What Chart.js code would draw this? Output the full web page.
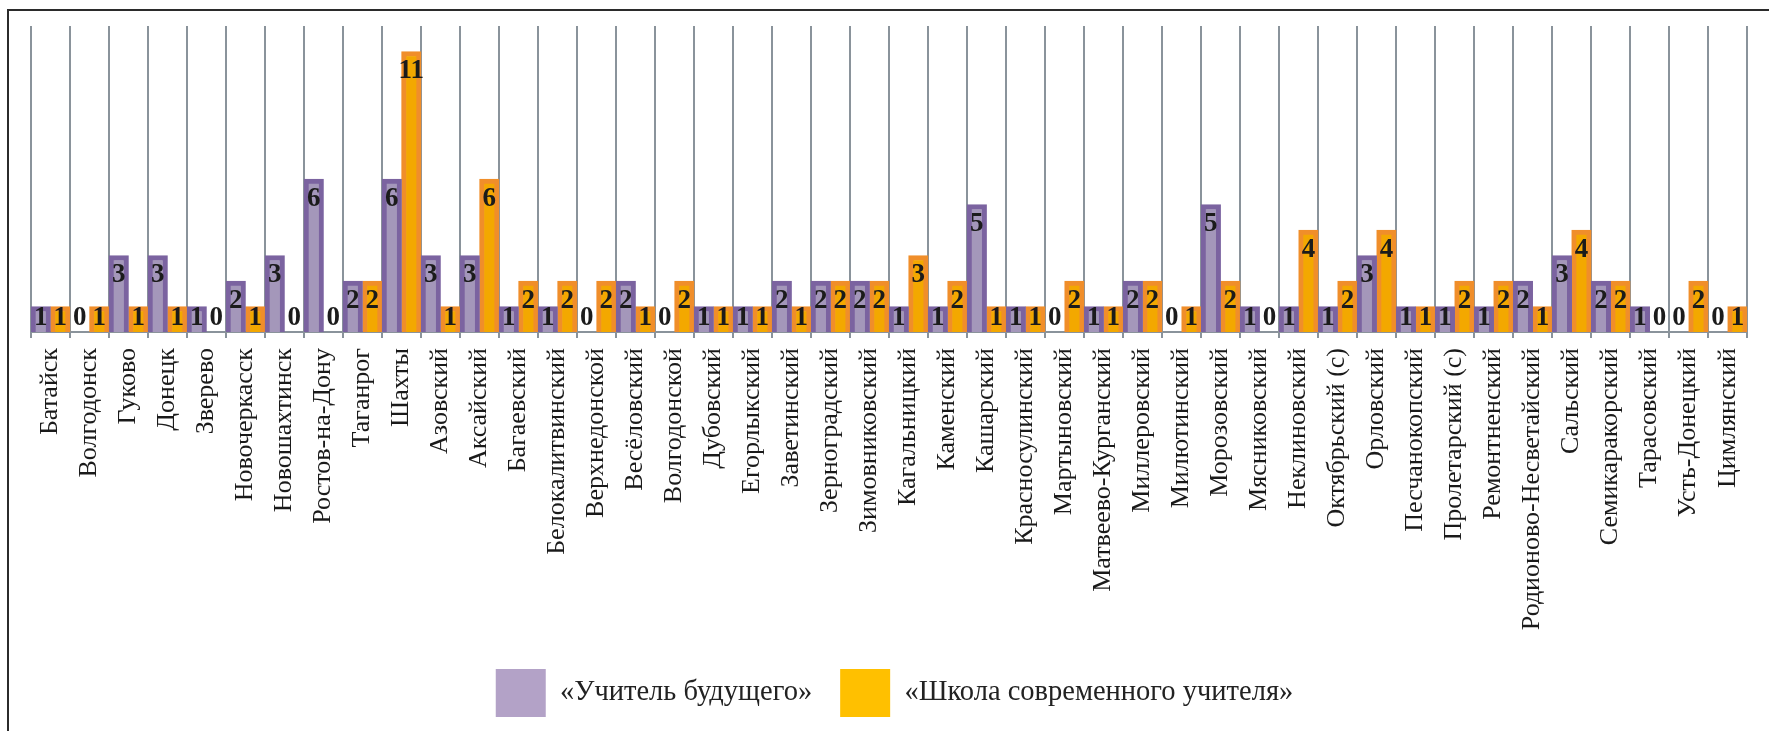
<!DOCTYPE html>
<html lang="ru">
<head>
<meta charset="utf-8">
<title>Учитель будущего / Школа современного учителя</title>
<script src="https://cdn.jsdelivr.net/npm/chart.js@4/dist/chart.umd.min.js"></script>
<style>
  html, body { margin: 0; padding: 0; background: #fff; overflow: hidden; }
  #wrap { position: relative; width: 1769px; height: 731px; }
  #frame { position: absolute; left: 7px; top: 9px; width: 3000px; height: 3000px;
           border-left: 2px solid #2b2b2b; border-top: 2px solid #2b2b2b; }
  #chart { position: absolute; left: 0; top: 0; }
</style>
</head>
<body>
<div id="wrap">
  <div id="frame"></div>
  <canvas id="chart" width="1769" height="731"></canvas>
</div>
<script>
const categories = [
  'Батайск', 'Волгодонск', 'Гуково', 'Донецк', 'Зверево', 'Новочеркасск', 'Новошахтинск',
  'Ростов-на-Дону', 'Таганрог', 'Шахты', 'Азовский', 'Аксайский', 'Багаевский',
  'Белокалитвинский', 'Верхнедонской', 'Весёловский', 'Волгодонской', 'Дубовский',
  'Егорлыкский', 'Заветинский', 'Зерноградский', 'Зимовниковский', 'Кагальницкий',
  'Каменский', 'Кашарский', 'Красносулинский', 'Мартыновский', 'Матвеево-Курганский',
  'Миллеровский', 'Милютинский', 'Морозовский', 'Мясниковский', 'Неклиновский',
  'Октябрьский (с)', 'Орловский', 'Песчанокопский', 'Пролетарский (с)', 'Ремонтненский',
  'Родионово-Несветайский', 'Сальский', 'Семикаракорский', 'Тарасовский', 'Усть-Донецкий',
  'Цимлянский'
];

const teacherFuture = [
  1, 0, 3, 3, 1, 2, 3, 6, 2, 6, 3, 3, 1, 1, 0, 2, 0, 1, 1, 2, 2, 2,
  1, 1, 5, 1, 0, 1, 2, 0, 5, 1, 1, 1, 3, 1, 1, 1, 2, 3, 2, 1, 0, 0
];

const modernSchool = [
  1, 1, 1, 1, 0, 1, 0, 0, 2, 11, 1, 6, 2, 2, 2, 1, 2, 1, 1, 1, 2, 2,
  3, 2, 1, 1, 2, 1, 2, 1, 2, 0, 4, 2, 4, 1, 2, 2, 1, 4, 2, 0, 2, 1
];

const seriesNames = ['«Учитель будущего»', '«Школа современного учителя»'];
const legendColors = ['#b3a2c7', '#ffc000'];

const serif = '"Liberation Serif", "Times New Roman", serif';

// value labels: inside the bar top, but never lower than just above the axis
const valueLabels = {
  id: 'valueLabels',
  afterDatasetsDraw(chart) {
    const ctx = chart.ctx;
    ctx.save();
    ctx.font = 'bold 27px ' + serif;
    ctx.fillStyle = '#1b1b1b';
    ctx.textAlign = 'center';
    ctx.textBaseline = 'middle';
    chart.data.datasets.forEach((ds, di) => {
      const meta = chart.getDatasetMeta(di);
      meta.data.forEach((bar, i) => {
        const y = Math.min(bar.y + 20, bar.base - 14);
        ctx.fillText(String(ds.data[i]), bar.x, y);
      });
    });
    ctx.restore();
  }
};

new Chart(document.getElementById('chart'), {
  type: 'bar',
  data: {
    labels: categories,
    datasets: [{
      label: seriesNames[0],
      data: teacherFuture,
      backgroundColor: '#a497ba',
      borderColor: '#7b63a0',
      borderWidth: 5,
      categoryPercentage: 1.0,
      barPercentage: 1.0
    }, {
      label: seriesNames[1],
      data: modernSchool,
      backgroundColor: '#f3a800',
      borderColor: '#f08e2a',
      borderWidth: 5,
      categoryPercentage: 1.0,
      barPercentage: 1.0
    }]
  },
  options: {
    responsive: false,
    animation: false,
    layout: { padding: { left: 31, right: 11, top: 26, bottom: 4 } },
    scales: {
      x: {
        offset: true,
        grid: { offset: true, color: '#8a939b', lineWidth: 2, tickLength: 6 },
        border: { color: '#8a939b', width: 2 },
        ticks: {
          autoSkip: false, minRotation: 90, maxRotation: 90, padding: 10,
          color: '#1a1a1a', font: { family: serif, size: 26 }
        },
        afterFit(scale) { scale.height = 309; }
      },
      y: { display: false, min: 0, max: 12 }
    },
    plugins: {
      legend: {
        position: 'bottom',
        labels: {
          boxWidth: 50, boxHeight: 48, padding: 28,
          color: '#222', font: { family: serif, size: 28.5 },
          generateLabels(chart) {
            return Chart.defaults.plugins.legend.labels.generateLabels(chart).map((item, i) =>
              Object.assign(item, { fillStyle: legendColors[i], strokeStyle: legendColors[i], lineWidth: 0 }));
          }
        }
      },
      tooltip: { enabled: false }
    }
  },
  plugins: [valueLabels]
});
</script>
</body>
</html>
